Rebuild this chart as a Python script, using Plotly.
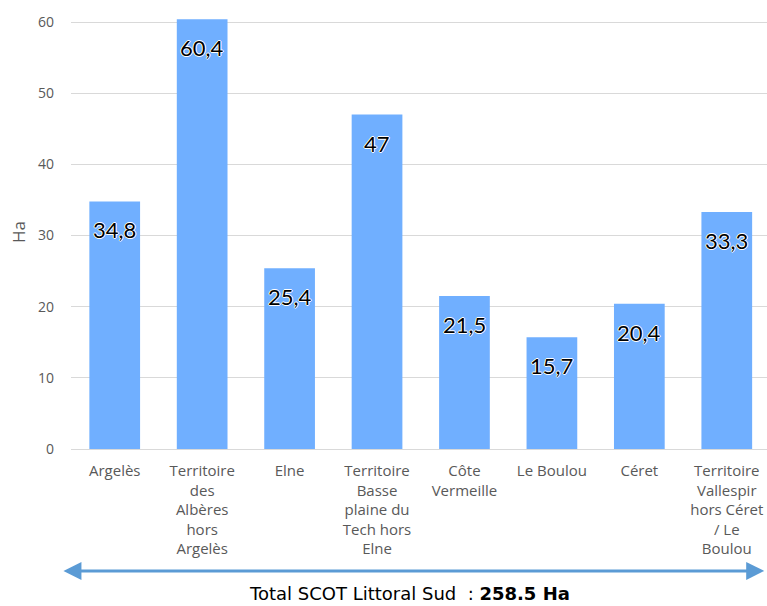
import plotly.graph_objects as go

categories = ["Argelès", "Territoire<br>des<br>Albères<br>hors<br>Argelès", "Elne",
              "Territoire<br>Basse<br>plaine du<br>Tech hors<br>Elne", "Côte<br>Vermeille",
              "Le Boulou", "Céret", "Territoire<br>Vallespir<br>hors Céret<br>/ Le<br>Boulou"]
values = [34.8, 60.4, 25.4, 47, 21.5, 15.7, 20.4, 33.3]
labels = ["34,8", "60,4", "25,4", "47", "21,5", "15,7", "20,4", "33,3"]
y_ticks = [0, 10, 20, 30, 40, 50, 60]

FONT = "Lato"
CAT_FONT = "Open Sans"
GREY = "#595959"

fig = go.Figure()
fig.add_trace(go.Bar(x=list(range(len(categories))), y=values, marker_color="#70AFFF",
                     marker_line_width=0, hoverinfo="skip"))

shadow = "white 1px 0px 0px, white -1px 0px 0px, white 0px 1px 0px, white 0px -1px 0px"
for i, (v, t) in enumerate(zip(values, labels)):
    fig.add_annotation(x=i, y=v, xref="x", yref="y", text=t, showarrow=False,
                       yanchor="top", yshift=-13,
                       font=dict(family=FONT, size=22, color="black", shadow=shadow))

# double-headed arrow
fig.add_annotation(xref="x domain", yref="y domain", axref="x domain", ayref="y domain",
                   x=0.996, y=-0.281, ax=-0.013, ay=-0.281, text="", showarrow=True,
                   arrowhead=2, startarrowhead=2, arrowside="end+start",
                   arrowsize=1.2, startarrowsize=1.2, arrowwidth=3, arrowcolor="#5B9BD5")
fig.add_annotation(xref="paper", yref="paper", x=0.487, y=-0.334, showarrow=False,
                   xanchor="center", yanchor="middle",
                   text="Total SCOT Littoral Sud  : <b>258.5 Ha</b>",
                   font=dict(family="DejaVu Sans", size=18, color="black"))

fig.update_layout(
    width=767, height=606, margin=dict(l=71, r=0, t=15, b=157),
    plot_bgcolor="white", paper_bgcolor="white", bargap=0.42, showlegend=False,
    font=dict(family=FONT, color=GREY),
)
fig.update_xaxes(tickmode="array", tickvals=list(range(len(categories))), ticktext=categories,
                 range=[-0.5, 7.46], showgrid=False, showline=True, linecolor="#d9d9d9",
                 ticks="", ticklabelstandoff=8, tickfont=dict(family=CAT_FONT, size=15, color=GREY),
                 fixedrange=True)
fig.update_yaxes(range=[0, 61], tickvals=y_ticks, showgrid=True, gridcolor="#d9d9d9",
                 zeroline=False, showline=False, ticks="", ticklabelstandoff=16,
                 tickfont=dict(family=CAT_FONT, size=14, color=GREY),
                 title=dict(text="Ha", font=dict(family=CAT_FONT, size=17, color=GREY), standoff=8))

fig.write_html("out.html")
